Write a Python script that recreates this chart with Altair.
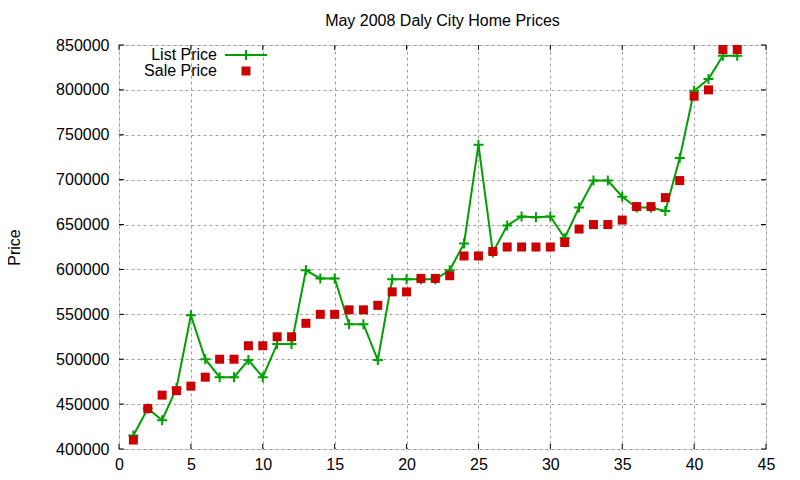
import altair as alt
import pandas as pd

# ---- data ----
house = list(range(1, 44))
list_price = [415000, 445000, 432000, 468000, 549000, 500000, 480000, 480000, 499000, 480000,
              517000, 517000, 599000, 590000, 590000, 539000, 539000, 499000, 589000, 589000,
              589000, 589000, 599000, 629000, 739000, 619000, 649000, 659000, 658000, 659000,
              635000, 669000, 699000, 699000, 681000, 669000, 669000, 665000, 724000, 799000,
              812000, 838000, 838000]
sale_price = [410000, 445000, 460000, 465000, 470000, 480000, 500000, 500000, 515000, 515000,
              525000, 525000, 540000, 550000, 550000, 555000, 555000, 560000, 575000, 575000,
              590000, 590000, 593000, 615000, 615000, 620000, 625000, 625000, 625000, 625000,
              630000, 645000, 650000, 650000, 655000, 670000, 670000, 680000, 699000, 793000,
              800000, 845000, 845000]
x_ticks = [0, 5, 10, 15, 20, 25, 30, 35, 40, 45]
y_ticks = [400000, 450000, 500000, 550000, 600000, 650000, 700000, 750000, 800000, 850000]
series = ["List Price", "Sale Price"]
title_text = "May 2008 Daly City Home Prices"
y_title = "Price"

GREEN = "#00a000"
RED = "#cc0000"
FONT = "Liberation Sans"
FS = 16
W, H = 647, 404
PLUS = "M-1,0L1,0M0,-1L0,1"

df = pd.DataFrame({"x": house, "list": list_price, "sale": sale_price})
xt = pd.DataFrame({"x": x_ticks})
yt = pd.DataFrame({"y": y_ticks})

xscale = alt.Scale(domain=[0, 45], nice=False, zero=False)
yscale = alt.Scale(domain=[400000, 850000], nice=False, zero=False)
xaxis = alt.Axis(values=x_ticks, grid=True, ticks=False, domain=False, labelPadding=7,
                 labelFlush=False, labelOverlap=False,
                 gridDash=[3, 3], gridColor="#a0a0a0", gridWidth=1, title=None,
                 labelFontSize=FS, labelFont=FONT, labelColor="black")
yaxis = alt.Axis(values=y_ticks, grid=True, ticks=False, domain=False, labelPadding=10,
                 labelFlush=False, labelOverlap=False,
                 format="d", gridDash=[3, 3], gridColor="#a0a0a0", gridWidth=1,
                 title=y_title, titleFontSize=FS, titleFont=FONT, titleFontWeight="normal",
                 titleX=-105, titleY=H / 2, titleAngle=270, titleBaseline="middle",
                 titleAlign="center", titleColor="black",
                 labelFontSize=FS, labelFont=FONT, labelColor="black")

X = alt.X("x:Q", scale=xscale, axis=xaxis)

line = alt.Chart(df).mark_line(color=GREEN, strokeWidth=2).encode(
    x=X, y=alt.Y("list:Q", scale=yscale, axis=yaxis, title=y_title))
plus = alt.Chart(df).mark_point(shape=PLUS, size=100, filled=False, color=GREEN,
                                strokeWidth=2, opacity=1).encode(
    x=X, y=alt.Y("list:Q", scale=yscale, axis=yaxis, title=y_title))
squares = alt.Chart(df).mark_square(size=81, color=RED, opacity=1).encode(
    x=X, y=alt.Y("sale:Q", scale=yscale, axis=yaxis, title=y_title))

# inward ticks on all four sides
tb = alt.Chart(xt).mark_rule(color="black", strokeWidth=1).encode(
    x=X, y=alt.value(H), y2=alt.value(H - 5))
tt = alt.Chart(xt).mark_rule(color="black", strokeWidth=1).encode(
    x=X, y=alt.value(0), y2=alt.value(5))
tl = alt.Chart(yt).mark_rule(color="black", strokeWidth=1).encode(
    y=alt.Y("y:Q", scale=yscale, axis=yaxis, title=y_title), x=alt.value(0), x2=alt.value(5))
tr = alt.Chart(yt).mark_rule(color="black", strokeWidth=1).encode(
    y=alt.Y("y:Q", scale=yscale, axis=yaxis, title=y_title), x=alt.value(W - 5), x2=alt.value(W))

# legend (labels left of symbols, as in the reference)
leg_list = pd.DataFrame({"label": [series[0]]})
leg_sale = pd.DataFrame({"label": [series[1]]})
lt1 = alt.Chart(leg_list).mark_text(align="right", baseline="middle", fontSize=FS,
                                    font=FONT, color="black").encode(
    text="label:N", x=alt.value(98), y=alt.value(10))
ll1 = alt.Chart(leg_list).mark_rule(color=GREEN, strokeWidth=2).encode(
    x=alt.value(106), x2=alt.value(148), y=alt.value(10))
lp1 = alt.Chart(leg_list).mark_point(shape=PLUS, size=100, filled=False, color=GREEN,
                                     strokeWidth=2, opacity=1).encode(
    x=alt.value(127), y=alt.value(10))
lt2 = alt.Chart(leg_sale).mark_text(align="right", baseline="middle", fontSize=FS,
                                    font=FONT, color="black").encode(
    text="label:N", x=alt.value(98), y=alt.value(26))
ls2 = alt.Chart(leg_sale).mark_square(size=81, color=RED, opacity=1).encode(
    x=alt.value(127), y=alt.value(26))

chart = alt.layer(line, plus, squares, tb, tt, tl, tr, lt1, ll1, lp1, lt2, ls2).properties(
    width=W, height=H,
    title=alt.TitleParams(title_text, fontSize=FS, font=FONT, fontWeight="normal",
                          anchor="middle", offset=8, color="black"),
    autosize=alt.AutoSizeParams(type="none"),
    padding={"left": 111, "top": 37, "right": 26, "bottom": 23},
).configure_view(stroke="black", strokeWidth=1).configure(background="white")

chart.save("out.html", embed_options={"renderer": "svg", "actions": False})
